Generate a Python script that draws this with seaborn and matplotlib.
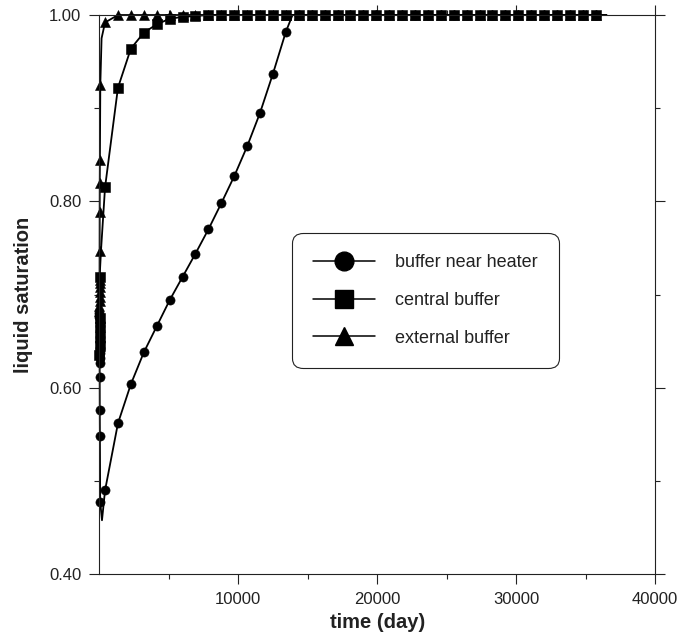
import numpy as np
import pandas as pd
import seaborn as sns
import matplotlib
matplotlib.use('Agg')
import matplotlib.pyplot as plt
from matplotlib.lines import Line2D

# output times after the start-up phase (day)
out_t = [400, 1330, 2260, 3190, 4120, 5050, 5980, 6910, 7840, 8770, 9700, 10630,
         11560, 12490, 13420, 14350, 15280, 16210, 17140, 18070, 19000, 19930,
         20860, 21790, 22720, 23650, 24580, 25510, 26440, 27370, 28300, 29230,
         30160, 31090, 32020, 32950, 33880, 34810, 35740]
end_t = 36500

# buffer near heater (circles)
heater_t0 = [0, 1, 2, 3, 4, 5, 6, 7, 8, 9, 10, 15, 20, 30, 50]
heater_s0 = [0.680, 0.676, 0.671, 0.666, 0.661, 0.655, 0.649, 0.643, 0.637, 0.632,
             0.627, 0.612, 0.576, 0.548, 0.478]
heater_s = [0.490, 0.562, 0.604, 0.638, 0.666, 0.694, 0.719, 0.744, 0.770, 0.798,
            0.827, 0.859, 0.895, 0.937, 0.982] + [1.0] * 24
heater_fit = {180: 0.458, 13900: 1.0}

# central buffer (squares)
central_t0 = [0, 2, 4, 6, 8, 10]
central_s0 = [0.635, 0.645, 0.655, 0.665, 0.675, 0.719]
central_s = [0.815, 0.922, 0.964, 0.981, 0.990, 0.996, 0.998, 0.999] + [1.0] * 31
central_fit = {120: 0.750}

# external buffer (triangles)
external_t0 = [0, 1, 2, 3, 4, 5, 6, 7, 10, 15, 20, 30, 60]
external_s0 = [0.683, 0.688, 0.693, 0.698, 0.703, 0.708, 0.712, 0.716, 0.747, 0.789,
               0.820, 0.844, 0.925]
external_s = [0.992] + [1.0] * 38
external_fit = {150: 0.975}

labels = ['buffer near heater', 'central buffer', 'external buffer']
markers = ['o', 's', '^']
msizes = [6.6, 7.4, 7.0]


def build(t0, s0, s, fit):
    pts = [(t, v, True) for t, v in zip(t0 + out_t, s0 + s)]
    pts += [(t, v, False) for t, v in fit.items()]
    pts.append((end_t, 1.0, False))
    df = pd.DataFrame(pts, columns=['time', 'sat', 'mark']).sort_values('time')
    return df.reset_index(drop=True)


series = [build(heater_t0, heater_s0, heater_s, heater_fit),
          build(central_t0, central_s0, central_s, central_fit),
          build(external_t0, external_s0, external_s, external_fit)]

sns.set_style('ticks')
plt.rcParams['font.family'] = ['Liberation Sans', 'DejaVu Sans']

fig = plt.figure(figsize=(6.8, 6.42), dpi=100)
ax = fig.add_axes([0.1463, 0.1054, 0.8169, 0.8712])

for df, m, ms in zip(series, markers, msizes):
    idx = list(np.flatnonzero(df['mark'].to_numpy()))
    sns.lineplot(data=df, x='time', y='sat', ax=ax, estimator=None, sort=False,
                 color='black', lw=1.3, marker=m, markersize=ms, markevery=idx,
                 markeredgecolor='black', markeredgewidth=0.4, legend=False,
                 clip_on=False)

ax.set_xlim(0, 40000)
ax.set_ylim(0.40, 1.00)
ax.set_xticks([10000, 20000, 30000, 40000])
ax.set_xticks([5000, 15000, 25000, 35000], minor=True)
ax.set_yticks([0.4, 0.6, 0.8, 1.0])
ax.set_yticklabels(['0.40', '0.60', '0.80', '1.00'])
ax.set_yticks([0.5, 0.7, 0.9], minor=True)
ax.tick_params(which='both', direction='out', top=True, right=True,
               labeltop=False, labelright=False, width=0.8, color='#222222')
ax.tick_params(which='major', length=7.5, pad=5.5, labelsize=12, labelcolor='#222222')
ax.tick_params(which='minor', length=3.5)
for sp in ax.spines.values():
    sp.set_linewidth(0.8)
    sp.set_color('#222222')

ax.set_xlabel('time (day)', fontsize=14.5, fontweight='bold', labelpad=4, color='#222222')
ax.set_ylabel('liquid saturation', fontsize=14.5, fontweight='bold', labelpad=12, color='#222222')

handles = [Line2D([0], [0], color='black', lw=1.1, marker=m, markersize=13.5)
           for m in markers]
leg = ax.legend(handles, labels, loc='upper left', bbox_to_anchor=(0.346, 0.611),
                borderaxespad=0, fontsize=13, handlelength=3.4, handletextpad=1.1,
                borderpad=1.2, labelspacing=1.15, frameon=True, fancybox=True)
frame = leg.get_frame()
frame.set_edgecolor('#222222')
frame.set_linewidth(0.8)
frame.set_alpha(1)
frame.set_boxstyle('round', pad=0, rounding_size=0.6)
for txt in leg.get_texts():
    txt.set_color('#222222')

fig.savefig('out.png', dpi=100)
